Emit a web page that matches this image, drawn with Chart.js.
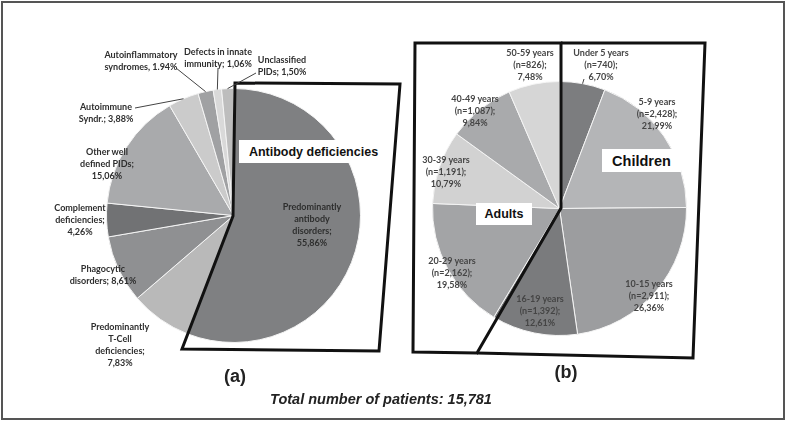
<!DOCTYPE html>
<html><head><meta charset="utf-8">
<script src="https://cdn.jsdelivr.net/npm/chart.js@4.4.0/dist/chart.umd.min.js"></script>
<style>
html,body{margin:0;padding:0;background:#fff;}
#wrap{position:relative;width:787px;height:422px;overflow:hidden;font-family:Lato,"Liberation Sans",sans-serif;}
#frame{position:absolute;left:1px;top:1px;width:780px;height:415px;border:2px solid #555;}
canvas{position:absolute;}
.lbl{position:absolute;transform:translateX(-50%);text-align:center;white-space:nowrap;font-weight:700;font-size:9px;line-height:12px;color:#2e2e2e;}
.lblB{color:#454545;}
.box{position:absolute;background:#fff;font-family:"Liberation Sans",Arial,sans-serif;font-weight:700;color:#111;display:flex;align-items:center;justify-content:center;}
.cap{position:absolute;transform:translateX(-50%);font-family:"Liberation Sans",Arial,sans-serif;font-weight:700;color:#222;white-space:nowrap;}
svg{position:absolute;left:0;top:0;}
</style></head>
<body>
<div id="wrap">
  <div id="frame"></div>
  <canvas id="pieA" width="255" height="255" style="left:106px;top:88px;width:255px;height:255px"></canvas>
  <canvas id="pieB" width="255" height="255" style="left:432px;top:81px;width:255px;height:255px"></canvas>
  <svg id="ov" width="787" height="422"></svg>
</div>
<script>
// ---- data: panel (a) diagnosis categories ----
const categoriesA = ["Predominantly antibody disorders","Predominantly T-Cell deficiencies","Phagocytic disorders","Complement deficiencies","Other well defined PIDs","Autoimmune Syndr.","Autoinflammatory syndromes","Defects in innate immunity","Unclassified PIDs"];
const percentA = [55.86, 7.83, 8.61, 4.26, 15.06, 3.88, 1.94, 1.06, 1.50];
const labelLinesA = [
  ["Predominantly","antibody","disorders;","55,86%"],
  ["Predominantly","T-Cell","deficiencies;","7,83%"],
  ["Phagocytic","disorders; 8,61%"],
  ["Complement","deficiencies;","4,26%"],
  ["Other well","defined PIDs;","15,06%"],
  ["Autoimmune","Syndr.; 3,88%"],
  ["Autoinflammatory","syndromes, 1.94%"],
  ["Defects in innate","immunity; 1,06%"],
  ["Unclassified","PIDs; 1,50%"]
];
// ---- data: panel (b) age groups ----
const categoriesB = ["Under 5 years","5-9 years","10-15 years","16-19 years","20-29 years","30-39 years","40-49 years","50-59 years"];
const patientsB = [740, 2428, 2911, 1392, 2162, 1191, 1087, 826];
const percentB = [6.70, 21.99, 26.36, 12.61, 19.58, 10.79, 9.84, 7.48];
const totalPatients = "15,781";

// ---- styles / layout ----
const colorsA = ["#7f8082","#b9b9b9","#8f9092","#717274","#a9aaac","#cbcbcb","#a0a1a3","#d9d9d9","#bdbdbd"];
const colorsB = ["#7c7d7f","#b4b5b7","#9c9d9f","#7a7b7d","#a3a4a6","#d2d2d2","#a9aaac","#d6d6d6"];
const labelPosA = [[312,207],[120,327],[103,269],[80,208],[107,152],[106,107],[141,55],[218,52],[282,60]];
const labelPosB = [[601,53],[657,102],[649,284],[540,299],[452,261],[446,160],[475,99],[530,53]];
const leaderA = {5:[135,108], 6:[176,68], 7:[218,68], 8:[256,73]};
const leaderB = {0:[584,79]};

function fmtN(n){ return n.toLocaleString('en-US'); }
function fmtP(p){ return p.toFixed(2).replace('.', ','); }
const labelLinesB = categoriesB.map((c,i)=>[c, "(n="+fmtN(patientsB[i])+");", fmtP(percentB[i])+"%"]);

function makePie(id, labels, data, colors){
  return new Chart(document.getElementById(id), {
    type:'pie',
    data:{labels:labels, datasets:[{data:data, backgroundColor:colors, borderColor:'#f4f4f4', borderWidth:1}]},
    options:{responsive:false, animation:false, layout:{padding:0},
      plugins:{legend:{display:false}, tooltip:{enabled:false}}}
  });
}
const chartA = makePie('pieA', categoriesA, percentA, colorsA);
const chartB = makePie('pieB', categoriesB, patientsB, colorsB);

const wrap = document.getElementById('wrap');
const ov = document.getElementById('ov');
const NS = 'http://www.w3.org/2000/svg';
function svgEl(tag, attrs){ const e=document.createElementNS(NS,tag); for(const k in attrs) e.setAttribute(k, attrs[k]); ov.appendChild(e); return e; }

// frames
svgEl('polygon',{points:"235,83 400,84 379,351 182,349 233,216", fill:'none', stroke:'#111', 'stroke-width':3, 'stroke-linejoin':'miter'});
svgEl('polygon',{points:"415,43 561,43 561,208 477,353 413,352", fill:'none', stroke:'#111', 'stroke-width':3});
svgEl('polyline',{points:"561,43 705,43 693,358 477,353", fill:'none', stroke:'#111', 'stroke-width':3});

function rimPoint(chart, canvasId, i){
  const arc = chart.getDatasetMeta(0).data[i];
  const c = document.getElementById(canvasId);
  const m = (arc.startAngle + arc.endAngle)/2;
  return [c.offsetLeft + arc.x + arc.outerRadius*Math.cos(m), c.offsetTop + arc.y + arc.outerRadius*Math.sin(m)];
}
for (const k in leaderA){ const p = rimPoint(chartA,'pieA',+k); svgEl('line',{x1:leaderA[k][0],y1:leaderA[k][1],x2:p[0],y2:p[1],stroke:'#444','stroke-width':1}); }
for (const k in leaderB){ const p = rimPoint(chartB,'pieB',+k); svgEl('line',{x1:leaderB[k][0],y1:leaderB[k][1],x2:p[0],y2:p[1],stroke:'#444','stroke-width':1}); }

function addLabel(lines, pos, extra){
  const d = document.createElement('div');
  d.className='lbl' + (extra ? ' '+extra : '');
  d.style.left = pos[0]+'px';
  d.style.top = (pos[1]-6)+'px';
  d.innerHTML = lines.map(s=>s.replace(/&/g,'&amp;').replace(/</g,'&lt;')).join('<br>');
  wrap.appendChild(d);
}
labelLinesA.forEach((l,i)=>addLabel(l, labelPosA[i]));
labelLinesB.forEach((l,i)=>addLabel(l, labelPosB[i], 'lblB'));

function addBox(text, x, y, w, h, size){
  const d=document.createElement('div'); d.className='box';
  d.style.left=x+'px'; d.style.top=y+'px'; d.style.width=w+'px'; d.style.height=h+'px';
  d.style.fontSize=size+'px';
  d.textContent=text; wrap.appendChild(d);
}
addBox("Antibody deficiencies", 239, 140, 149, 23, 12.5);
addBox("Children", 602, 149, 79, 23, 14.5);
addBox("Adults", 476, 203, 56, 22, 12.5);

function addCap(text, x, y, size, italic){
  const d=document.createElement('div'); d.className='cap';
  d.style.left=x+'px'; d.style.top=y+'px'; d.style.fontSize=size+'px';
  if(italic) d.style.fontStyle='italic';
  d.textContent=text; wrap.appendChild(d);
}
addCap("(a)", 235, 366, 18, false);
addCap("(b)", 566, 362, 18, false);
addCap("Total number of patients: " + totalPatients, 381, 391, 14.5, true);
</script>
</body></html>
